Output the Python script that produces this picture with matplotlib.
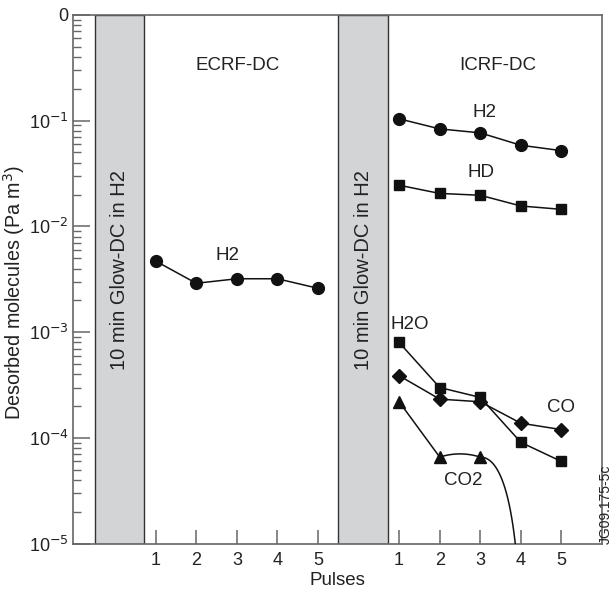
import numpy as np
import matplotlib.pyplot as plt
from matplotlib.ticker import FixedLocator, LogLocator, NullFormatter

plt.rcParams['font.family'] = ['Liberation Sans', 'DejaVu Sans']

# pulse numbers and their positions on the axis
pulses = [1, 2, 3, 4, 5]
ecrf_x = np.array([1, 2, 3, 4, 5])
icrf_x = np.array([7, 8, 9, 10, 11])

# ECRF-DC
ecrf_h2 = [4.7e-3, 2.9e-3, 3.2e-3, 3.2e-3, 2.6e-3]

# ICRF-DC
icrf_h2 = [0.104, 0.0835, 0.0766, 0.0585, 0.052]
icrf_hd = [0.0245, 0.0205, 0.0197, 0.0156, 0.0145]
icrf_h2o = [8.0e-4, 3.0e-4, 2.42e-4, 9.1e-5, 6.0e-5]
icrf_co = [3.88e-4, 2.33e-4, 2.2e-4, 1.38e-4, 1.2e-4]
icrf_co2 = [2.2e-4, 6.6e-5, 6.6e-5]
co2_tail_end = (3.95, 4.0e-6)   # curve drops below detection limit near pulse 4

ytick_vals = [1e-5, 1e-4, 1e-3, 1e-2, 1e-1, 1]
ytick_labels = ['10$^{-5}$', '10$^{-4}$', '10$^{-3}$', '10$^{-2}$', '10$^{-1}$', '0']


def hermite(x0, y0, x1, y1, m0, m1, n=60):
    # cubic hermite segment in log10 space, m0/m1 in decades per pulse
    t = np.linspace(0, 1, n)
    dx = x1 - x0
    h00 = 2*t**3 - 3*t**2 + 1
    h10 = t**3 - 2*t**2 + t
    h01 = -2*t**3 + 3*t**2
    h11 = t**3 - t**2
    ly = h00*np.log10(y0) + h10*dx*m0 + h01*np.log10(y1) + h11*dx*m1
    return x0 + t*dx, 10**ly


def bezier_drop(x0, y0, x1, y1, n=60):
    # quadratic bezier in log space: leaves flat, ends steep
    t = np.linspace(0, 1, n)
    cx = x0 + 0.8*(x1 - x0)
    xs = (1-t)**2*x0 + 2*t*(1-t)*cx + t**2*x1
    ly0, ly1 = np.log10(y0), np.log10(y1)
    ly = (1-t)**2*ly0 + 2*t*(1-t)*ly0 + t**2*ly1
    return xs, 10**ly


fig, ax = plt.subplots(figsize=(6.13, 5.93), dpi=100)
fig.subplots_adjust(left=0.119, right=0.982, top=0.975, bottom=0.083)

ax.set_yscale('log')
ax.set_xlim(-1.04, 12)
ax.set_ylim(1e-5, 1)

gray = '#d3d4d6'
for x0, x1 in [(-0.5, 0.72), (5.5, 6.73)]:
    ax.axvspan(x0, x1, facecolor=gray, edgecolor='#333333', linewidth=1.0, zorder=1)
    ax.text((x0 + x1) / 2, 3.85e-3, '10 min Glow-DC in H2', rotation=90,
            ha='center', va='center', fontsize=14.5, color='#222222', zorder=2)

lc = '#111111'
ax.plot(ecrf_x, ecrf_h2, '-o', color=lc, ms=8.5, lw=1.1, zorder=3)
ax.plot(icrf_x, icrf_h2, '-o', color=lc, ms=8.5, lw=1.1, zorder=3)
ax.plot(icrf_x, icrf_hd, '-s', color=lc, ms=7.5, lw=1.1, zorder=3)
ax.plot(icrf_x, icrf_h2o, '-s', color=lc, ms=7.5, lw=1.1, zorder=3)
ax.plot(icrf_x, icrf_co, '-D', color=lc, ms=7, lw=1.1, zorder=3)

# CO2: straight first segment, then a wavy curve and a drop off
co2_x = icrf_x[:3]
ax.plot(co2_x, icrf_co2, '^', color=lc, ms=8, zorder=3)
ax.plot(co2_x[:2], icrf_co2[:2], '-', color=lc, lw=1.1, zorder=3)
cx, cy = hermite(co2_x[1], icrf_co2[1], co2_x[2], icrf_co2[2], 0.12, -0.12)
ax.plot(cx, cy, '-', color=lc, lw=1.1, zorder=3)
cx, cy = bezier_drop(co2_x[2], icrf_co2[2], 6 + co2_tail_end[0], co2_tail_end[1])
ax.plot(cx, cy, '-', color=lc, lw=1.1, zorder=3)

# annotations
tc = '#222222'
fs = 13.5
ax.text(3.01, 0.33, 'ECRF-DC', ha='center', va='center', fontsize=fs, color=tc)
ax.text(9.43, 0.33, 'ICRF-DC', ha='center', va='center', fontsize=fs, color=tc)
ax.text(2.76, 5.3e-3, 'H2', ha='center', va='center', fontsize=fs, color=tc)
ax.text(9.11, 0.119, 'H2', ha='center', va='center', fontsize=fs, color=tc)
ax.text(9.02, 0.0326, 'HD', ha='center', va='center', fontsize=fs, color=tc)
ax.text(7.27, 1.19e-3, 'H2O', ha='center', va='center', fontsize=fs, color=tc)
ax.text(10.98, 1.96e-4, 'CO', ha='center', va='center', fontsize=fs, color=tc)
ax.text(8.57, 3.93e-5, 'CO2', ha='center', va='center', fontsize=fs, color=tc)

# axes styling
spc = '#666666'
for s in ax.spines.values():
    s.set_color(spc)
    s.set_linewidth(1.2)

ax.xaxis.set_major_locator(FixedLocator(list(ecrf_x) + list(icrf_x)))
ax.set_xticklabels([str(p) for p in pulses] * 2)
ax.yaxis.set_major_locator(FixedLocator(ytick_vals))
ax.set_yticklabels(ytick_labels)
ax.yaxis.set_minor_locator(LogLocator(base=10, subs=np.arange(2, 10), numticks=20))
ax.yaxis.set_minor_formatter(NullFormatter())
ax.tick_params(axis='x', direction='in', length=10, width=1.1, color=spc,
               labelsize=13, labelcolor=tc, pad=6)
ax.tick_params(axis='y', which='major', direction='in', length=12, width=1.1,
               color=spc, labelsize=13, labelcolor=tc, pad=3)
ax.tick_params(axis='y', which='minor', direction='in', length=6, width=1.0,
               color=spc)
ax.tick_params(right=False, top=False)

ax.set_xlabel('Pulses', fontsize=13.5, color=tc, labelpad=2)
ax.set_ylabel('Desorbed molecules (Pa m$^3$)', fontsize=14.2, color=tc)
ax.yaxis.set_label_coords(-0.087, 0.476)

fig.text(1.0, 0.083, 'JG09.175-5c', rotation=90, fontsize=10, color=tc,
         ha='right', va='bottom')

fig.savefig('out.png', dpi=100)
